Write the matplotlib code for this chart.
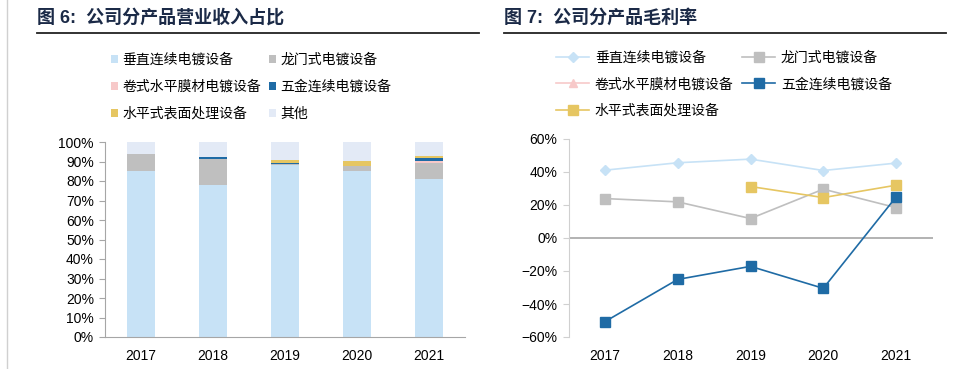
import matplotlib.pyplot as plt
import numpy as np
from matplotlib.lines import Line2D
from matplotlib.ticker import PercentFormatter

plt.rcParams['font.family'] = ['Liberation Sans', 'Noto Sans CJK SC', 'DejaVu Sans']

years = ['2017', '2018', '2019', '2020', '2021']
names = ['垂直连续电镀设备', '龙门式电镀设备', '卷式水平膜材电镀设备',
         '五金连续电镀设备', '水平式表面处理设备', '其他']

# 营业收入占比 (%)
share_vertical = [85.1, 78.1, 88.2, 85.1, 81.2]
share_gantry = [8.6, 13.4, 0.7, 2.6, 8.2]
share_roll = [0.0, 0.0, 0.0, 0.0, 0.8]
share_hardware = [0.3, 0.7, 0.3, 0.0, 1.6]
share_horizontal = [0.0, 0.0, 1.5, 2.6, 0.9]
share_other = [6.0, 7.8, 9.3, 9.7, 7.3]

# 毛利率 (%)
gm_vertical = [41.1, 45.6, 47.8, 40.9, 45.4]
gm_gantry = [23.9, 21.9, 11.8, 29.6, 18.4]
gm_roll = [np.nan, np.nan, np.nan, np.nan, np.nan]
gm_hardware = [-50.7, -25.1, -17.2, -30.5, 24.9]
gm_horizontal = [np.nan, np.nan, 31.2, 24.5, 32.0]

colors = ['#C7E2F6', '#BFBFBF', '#F7C9C9', '#1F6BA5', '#E6C662', '#E3EAF6']
axis_gray = '#A6A6A6'
title_color = '#1B2A47'

fig = plt.figure(figsize=(9.66, 3.69), dpi=100)
W, H = 966, 369


def fx(px):
    return px / W


def fy(py):
    return 1 - py / H


# 左侧边框线 + 标题和下划线
fig.add_artist(Line2D([fx(6.5), fx(6.5)], [0, 1], color='#D0D0D0', lw=1))
fig.text(fx(37), fy(18), '图 6:  公司分产品营业收入占比', fontsize=13, fontweight='bold',
         color=title_color, va='center')
fig.text(fx(504), fy(18), '图 7:  公司分产品毛利率', fontsize=13, fontweight='bold',
         color=title_color, va='center')
fig.add_artist(Line2D([fx(37), fx(479)], [fy(33), fy(33)], color='#222222', lw=1.3))
fig.add_artist(Line2D([fx(504), fx(946)], [fy(33), fy(33)], color='#222222', lw=1.3))

# ---- 左图: 堆叠柱状图 ----
ax1 = fig.add_axes([fx(105), fy(337), fx(465 - 105), (337 - 142) / H])
x = np.arange(len(years))
series = [share_vertical, share_gantry, share_roll, share_hardware, share_horizontal, share_other]
bottom = np.zeros(len(years))
bars = []
for vals, c, n in zip(series, colors, names):
    b = ax1.bar(x, vals, width=0.39, bottom=bottom, color=c, label=n)
    bars.append(b)
    bottom += np.array(vals)
ax1.set_xlim(-0.5, 4.5)
ax1.set_ylim(0, 100)
ax1.set_yticks(np.arange(0, 101, 10))
ax1.yaxis.set_major_formatter(PercentFormatter(decimals=0))
ax1.set_xticks(x)
ax1.set_xticklabels(years)
for s in ['top', 'right']:
    ax1.spines[s].set_visible(False)
for s in ['left', 'bottom']:
    ax1.spines[s].set_color(axis_gray)
ax1.tick_params(axis='y', length=4, color=axis_gray, labelsize=10, pad=4)
ax1.tick_params(axis='x', length=0, labelsize=10, pad=9)

order = [0, 2, 4, 1, 3, 5]
fig.legend([bars[i] for i in order], [names[i] for i in order], ncol=2,
           loc='upper left', bbox_to_anchor=(fx(111), fy(53)), frameon=False,
           fontsize=10, handlelength=0.5, handleheight=0.5, handletextpad=0.3,
           columnspacing=0.6, labelspacing=0.92, borderaxespad=0, borderpad=0)

# ---- 右图: 折线图 ----
ax2 = fig.add_axes([fx(568.5), fy(337), fx(932.5 - 568.5), (337 - 139) / H])
lines = []
lines += ax2.plot(x, gm_vertical, color=colors[0], marker='D', markersize=5, lw=1.2, label=names[0])
lines += ax2.plot(x, gm_gantry, color=colors[1], marker='s', markersize=7, lw=1.2, label=names[1])
lines += ax2.plot(x, gm_roll, color=colors[2], marker='^', markersize=6, lw=1.2, label=names[2])
lines += ax2.plot(x, gm_hardware, color=colors[3], marker='s', markersize=7, lw=1.2, label=names[3])
lines += ax2.plot(x, gm_horizontal, color=colors[4], marker='s', markersize=7, lw=1.2, label=names[4])
ax2.axhline(0, color=axis_gray, lw=1.2, zorder=0)
ax2.set_xlim(-0.5, 4.5)
ax2.set_ylim(-60, 60)
ax2.set_yticks(np.arange(-60, 61, 20))
ax2.yaxis.set_major_formatter(PercentFormatter(decimals=0))
ax2.set_xticks(x)
ax2.set_xticklabels(years)
for s in ['top', 'right', 'bottom']:
    ax2.spines[s].set_visible(False)
ax2.spines['left'].set_color('#D0D0D0')
ax2.tick_params(axis='y', length=4, color='#D0D0D0', labelsize=10, pad=4)
ax2.tick_params(axis='x', length=0, labelsize=10, pad=9)

order2 = [0, 2, 4, 1, 3]
fig.legend([lines[i] for i in order2], [names[i] for i in order2], ncol=2,
           loc='upper left', bbox_to_anchor=(fx(556), fy(51)), frameon=False,
           fontsize=10, handlelength=2.4, handletextpad=0.4, columnspacing=0.6,
           labelspacing=0.88, borderaxespad=0, borderpad=0)

fig.savefig('out.png', dpi=100)
